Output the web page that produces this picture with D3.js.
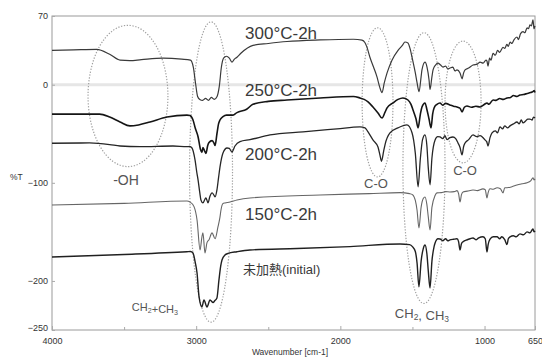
<!DOCTYPE html>
<html>
<head>
<meta charset="utf-8">
<script src="https://cdn.jsdelivr.net/npm/d3@7"></script>
<style>
  body { margin: 0; background: #fff; }
  svg { display: block; font-family: "Liberation Sans", Arial, "Noto Sans CJK JP", sans-serif; }
</style>
</head>
<body>
<svg id="chart" width="542" height="358"></svg>
<script>
// spectra: [wavenumber cm-1, %T]
var s300 = [[4000,35],[3850,35.5],[3690,36],[3600,31],[3528,25],[3460,24.5],[3380,25.5],[3230,27],[3100,26],[3040,25],[3020,18],[3005,2],[2990,-12],[2975,-15],[2955,-16],[2935,-14],[2915,-16],[2895,-13],[2875,-15],[2855,-12],[2840,-2],[2825,18],[2810,27],[2790,29],[2770,27],[2752,23],[2735,26],[2717,28],[2690,32],[2606,40],[2500,42],[2370,44],[2140,45.6],[1910,46.3],[1850,45.5],[1830,43],[1815,38],[1795,28],[1770,18],[1746,8],[1728,-2],[1711,-8],[1695,2],[1676,12],[1642,25],[1600,35],[1570,40],[1552,43.5],[1531,42.5],[1515,36],[1503,28],[1480,12],[1468,2],[1454,-7],[1440,8],[1434,15],[1413,23],[1399,18],[1385,5],[1378,-5],[1365,8],[1357,15],[1340,20],[1323,22],[1305,20],[1288,18],[1270,19],[1255,16],[1240,17],[1220,18],[1205,14],[1191,15],[1170,12],[1156,6],[1145,12],[1135,15],[1110,17],[1080,20],[1050,21],[1031,23],[1010,22],[990,25],[983,24],[976,19],[965,27],[955,25],[941,32],[925,30],[910,35],[895,33],[872,38],[860,37],[845,41],[835,39],[823,43.5],[810,42],[795,46],[775,48.6],[765,46],[750,52],[733,54],[720,53],[705,58],[695,57],[685,61],[675,60],[664,66],[657,57],[650,60]];
var s250 = [[4000,-30],[3850,-30],[3670,-30],[3600,-33],[3528,-38],[3459,-42],[3400,-41],[3320,-38],[3202,-33],[3064,-31],[3043,-31.5],[3022,-36],[3005,-45],[2987,-53],[2970,-66],[2960,-69],[2953,-64],[2940,-68],[2932,-70],[2920,-62],[2911,-59],[2890,-57],[2875,-60],[2869,-62],[2856,-50],[2845,-40],[2835,-36],[2814,-32.6],[2790,-31],[2765,-31],[2745,-31],[2717,-28.5],[2650,-25],[2606,-20],[2500,-17],[2370,-15.6],[2140,-13.5],[1910,-12],[1864,-13.5],[1835,-15],[1808,-17.6],[1774,-22.7],[1739,-28.8],[1711,-34],[1690,-28],[1676,-23.7],[1635,-18.6],[1600,-15],[1566,-13.5],[1531,-15.6],[1510,-20],[1496,-25.8],[1475,-35],[1461,-44],[1445,-30],[1434,-22.7],[1413,-18.6],[1399,-25.8],[1385,-35],[1371,-44],[1360,-30],[1350,-23.7],[1330,-20],[1309,-18.6],[1290,-21],[1270,-19],[1240,-20.7],[1215,-22],[1191,-22.7],[1170,-24],[1156,-27.8],[1140,-23],[1122,-21.7],[1090,-23],[1060,-22],[1031,-22.7],[1000,-20],[983,-18.6],[970,-20],[941,-15.6],[920,-16],[895,-14],[870,-15],[844,-13.5],[820,-13],[800,-11],[775,-12],[754,-10.5],[730,-10],[705,-9],[680,-8],[664,-7],[655,-6],[650,-8]];
var s200 = [[4000,-59.7],[3740,-59.4],[3600,-61],[3528,-62.5],[3390,-63.2],[3161,-62.5],[3064,-63.2],[3045,-63],[3029,-64.5],[3008,-76.7],[2995,-90],[2987,-97],[2975,-110],[2967,-117.5],[2953,-120.5],[2940,-117],[2932,-115.4],[2918,-120.5],[2905,-114],[2890,-110.3],[2875,-113],[2869,-114.4],[2856,-107.3],[2845,-95],[2835,-84],[2814,-69.6],[2786,-64.5],[2770,-65],[2752,-68.6],[2731,-62.5],[2696,-58],[2627,-56],[2488,-51.2],[2259,-48],[2023,-45],[1864,-43],[1829,-44],[1808,-48.2],[1774,-56.3],[1739,-63.5],[1725,-72],[1715,-78],[1700,-68],[1690,-61],[1656,-49.2],[1600,-44],[1538,-41],[1503,-49],[1480,-70],[1461,-104],[1445,-75],[1430,-56],[1413,-51.2],[1400,-62],[1390,-85],[1378,-102],[1365,-75],[1343,-56.3],[1325,-53],[1309,-53.3],[1290,-55],[1275,-52],[1260,-56],[1240,-54],[1219,-53.3],[1200,-55],[1184,-59.4],[1170,-64],[1156,-71.6],[1145,-63],[1135,-59.4],[1110,-56],[1080,-51.2],[1055,-53],[1031,-52],[1010,-54],[997,-56.3],[985,-58],[976,-62.5],[962,-54],[948,-49.2],[925,-47],[910,-49],[893,-43],[875,-45],[860,-42],[840,-44],[823,-42],[800,-40],[775,-38],[760,-40],[745,-36],[733,-39],[715,-37],[700,-35],[685,-35],[670,-36],[660,-33],[650,-34]];
var s150 = [[4000,-122.6],[3500,-121],[3064,-118.5],[3043,-119.5],[3015,-124.3],[2994,-137.9],[2973,-168.4],[2960,-155],[2953,-151],[2939,-171.5],[2925,-161],[2911,-158],[2890,-151],[2869,-157],[2849,-145],[2835,-135],[2828,-127.7],[2814,-121],[2800,-120.5],[2765,-119.5],[2717,-117.5],[2627,-115.4],[2141,-112.4],[1800,-111],[1586,-110],[1520,-111],[1500,-112],[1480,-118],[1468,-128],[1455,-146],[1440,-125],[1425,-116],[1413,-114.4],[1400,-122],[1390,-135],[1378,-148],[1365,-125],[1343,-113],[1330,-110.3],[1300,-110],[1270,-109],[1240,-109.3],[1210,-109],[1191,-108],[1180,-111],[1170,-119.5],[1160,-112],[1149,-109.3],[1120,-108.5],[1080,-107.3],[1050,-108],[1011,-106.2],[995,-107],[983,-115.4],[975,-110],[962,-106],[940,-106.5],[913,-105],[890,-106],[872,-110.3],[860,-105],[844,-105],[810,-104],[775,-102.2],[740,-101],[705,-100],[680,-98],[664,-95],[657,-97],[650,-96]];
var sInit = [[4000,-175.6],[3500,-173],[3064,-170.2],[3040,-170],[3022,-171.5],[3008,-180],[2994,-191.9],[2980,-216.3],[2960,-226.5],[2946,-219.4],[2925,-226.5],[2904,-219.4],[2883,-222],[2870,-220],[2856,-217.3],[2842,-199],[2830,-185],[2821,-178.6],[2800,-173.5],[2779,-172],[2717,-170.2],[2627,-168.4],[2300,-167],[1933,-165],[1586,-162.3],[1520,-163],[1500,-165],[1480,-170],[1468,-181.7],[1455,-206],[1440,-180],[1425,-167],[1413,-163.3],[1400,-172],[1390,-190],[1378,-207.2],[1365,-180],[1350,-165],[1343,-161.3],[1323,-157],[1309,-157.2],[1290,-159],[1270,-157],[1255,-159],[1240,-158.2],[1215,-157.5],[1191,-157],[1180,-160],[1170,-168.4],[1160,-162],[1149,-160],[1120,-158],[1100,-157],[1080,-156.2],[1060,-158],[1040,-156],[1011,-155],[995,-157],[983,-170.5],[975,-163],[962,-157.5],[940,-155],[913,-155],[895,-157],[880,-155],[860,-158],[844,-163],[835,-157],[823,-155],[800,-154],[780,-155],[754,-152],[730,-153],[705,-150],[685,-151],[664,-147],[657,-150],[650,-149]];

var seriesNames = ['300°C-2h', '250°C-2h', '200°C-2h', '150°C-2h', '未加熱(initial)'];
var xTicks = [4000, 3000, 2000, 1000, 650];
var xMinor = [3500, 2500, 1500];
var yTicks = [70, 0, -100, -200, -250];

// dotted ellipses round the bands: centre wavenumber, centre %T, half width (cm-1), half height (%T)
var bands = [[3473, -11.5, 277, 72], [2897, -89, 149, 153], [1742, -18, 107, 76], [1420, -85, 146, 138], [1149, -17.6, 125, 62]];
var bandLabels = ['-OH', 'CH2+CH3', 'C-O', 'CH2, CH3', 'C-O'];

var svg = d3.select('#chart');

var x = d3.scaleLinear().domain([4000, 650]).range([52, 535]);
var y = d3.scaleLinear().domain([-250, 70]).range([330, 16]);

// faint zero line
svg.append('line')
  .attr('x1', x(4000)).attr('x2', x(650))
  .attr('y1', y(0)).attr('y2', y(0))
  .attr('stroke', '#e6e6e6').attr('stroke-width', 3);

// frame
svg.append('rect')
  .attr('x', x(4000)).attr('y', y(70))
  .attr('width', x(650) - x(4000)).attr('height', y(-250) - y(70))
  .attr('fill', 'none').attr('stroke', '#9a9a9a').attr('stroke-width', 1);

var xAxis = svg.append('g')
  .attr('transform', 'translate(0,' + y(-250) + ')')
  .call(d3.axisBottom(x).tickValues(xTicks).tickSize(-4).tickPadding(8).tickFormat(d3.format('d')));
svg.append('g')
  .attr('transform', 'translate(0,' + y(-250) + ')')
  .call(d3.axisBottom(x).tickValues(xMinor).tickSize(-3).tickFormat(''))
  .call(function(g){ g.select('.domain').remove(); });

var yAxis = svg.append('g')
  .attr('transform', 'translate(' + x(4000) + ',0)')
  .call(d3.axisLeft(y).tickValues(yTicks).tickSize(-3).tickPadding(4));

[xAxis, yAxis].forEach(function(g){
  g.select('.domain').remove();
  g.selectAll('text').attr('font-size', 9).attr('fill', '#333')
    .attr('font-family', '"Liberation Sans", Arial, sans-serif');
});
svg.selectAll('.tick line').attr('stroke', '#aaa');
yAxis.selectAll('.tick').filter(function(d){ return d == -250; }).select('text').attr('dy', '0.1em');

svg.append('text')
  .attr('x', 290).attr('y', 355)
  .attr('text-anchor', 'middle').attr('font-size', 8.5).attr('fill', '#333')
  .text('Wavenumber [cm-1]');
svg.append('text')
  .attr('x', 10).attr('y', 180)
  .attr('font-size', 8.5).attr('fill', '#333')
  .text('%T');

// ellipses
svg.append('g').selectAll('ellipse')
  .data(bands)
  .enter().append('ellipse')
  .attr('cx', function(d){ return x(d[0]); })
  .attr('cy', function(d){ return y(d[1]); })
  .attr('rx', function(d){ return x(d[0] - d[2]) - x(d[0]); })
  .attr('ry', function(d){ return y(d[1] - d[3]) - y(d[1]); })
  .attr('fill', 'none')
  .attr('stroke', '#a0a0a0')
  .attr('stroke-width', 1.2)
  .attr('stroke-dasharray', '1.3,1.6');

// spectra
var line = d3.line()
  .x(function(d){ return x(d[0]); })
  .y(function(d){ return y(d[1]); })
  .curve(d3.curveMonotoneX);

var spectra = [s300, s250, s200, s150, sInit];
var strokes = ['#3a3a3a', '#151515', '#262626', '#666', '#202020'];
var widths = [1.2, 1.6, 1.3, 1.1, 1.4];

svg.append('g').selectAll('path')
  .data(spectra)
  .enter().append('path')
  .attr('d', line)
  .attr('fill', 'none')
  .attr('stroke', function(d, i){ return strokes[i]; })
  .attr('stroke-width', function(d, i){ return widths[i]; })
  .attr('stroke-linejoin', 'round');

// series labels
var labelAt = [[2661, 46.6], [2661, -11.5], [2661, -76.7], [2661, -137.9], [2675, -192.9]];
svg.append('g').selectAll('text')
  .data(seriesNames)
  .enter().append('text')
  .attr('x', function(d, i){ return x(labelAt[i][0]); })
  .attr('y', function(d, i){ return y(labelAt[i][1]); })
  .attr('font-size', function(d, i){ return i == 4 ? 13 : 17; })
  .attr('fill', '#3a3a3a')
  .text(function(d){ return d; });

// band labels
var bandLabelAt = [[3487, -102.2, 14], [3286, -230.6, 11], [1753, -105.3, 13], [1434, -237.7, 13], [1135, -92, 13]];
var bl = svg.append('g').selectAll('text')
  .data(bandLabels)
  .enter().append('text')
  .attr('x', function(d, i){ return x(bandLabelAt[i][0]); })
  .attr('y', function(d, i){ return y(bandLabelAt[i][1]); })
  .attr('font-size', function(d, i){ return bandLabelAt[i][2]; })
  .attr('text-anchor', 'middle')
  .attr('fill', '#555');

bl.each(function(d){
  var t = d3.select(this);
  // digits after CH are subscripts
  var parts = d.split(/(\d)/);
  parts.forEach(function(p){
    if (p === '') return;
    if (/\d/.test(p)) {
      t.append('tspan').attr('font-size', '0.65em').attr('dy', '0.25em').text(p);
      t.append('tspan').attr('dy', '-0.17em').text('');
    } else {
      t.append('tspan').text(p);
    }
  });
});
</script>
</body>
</html>
